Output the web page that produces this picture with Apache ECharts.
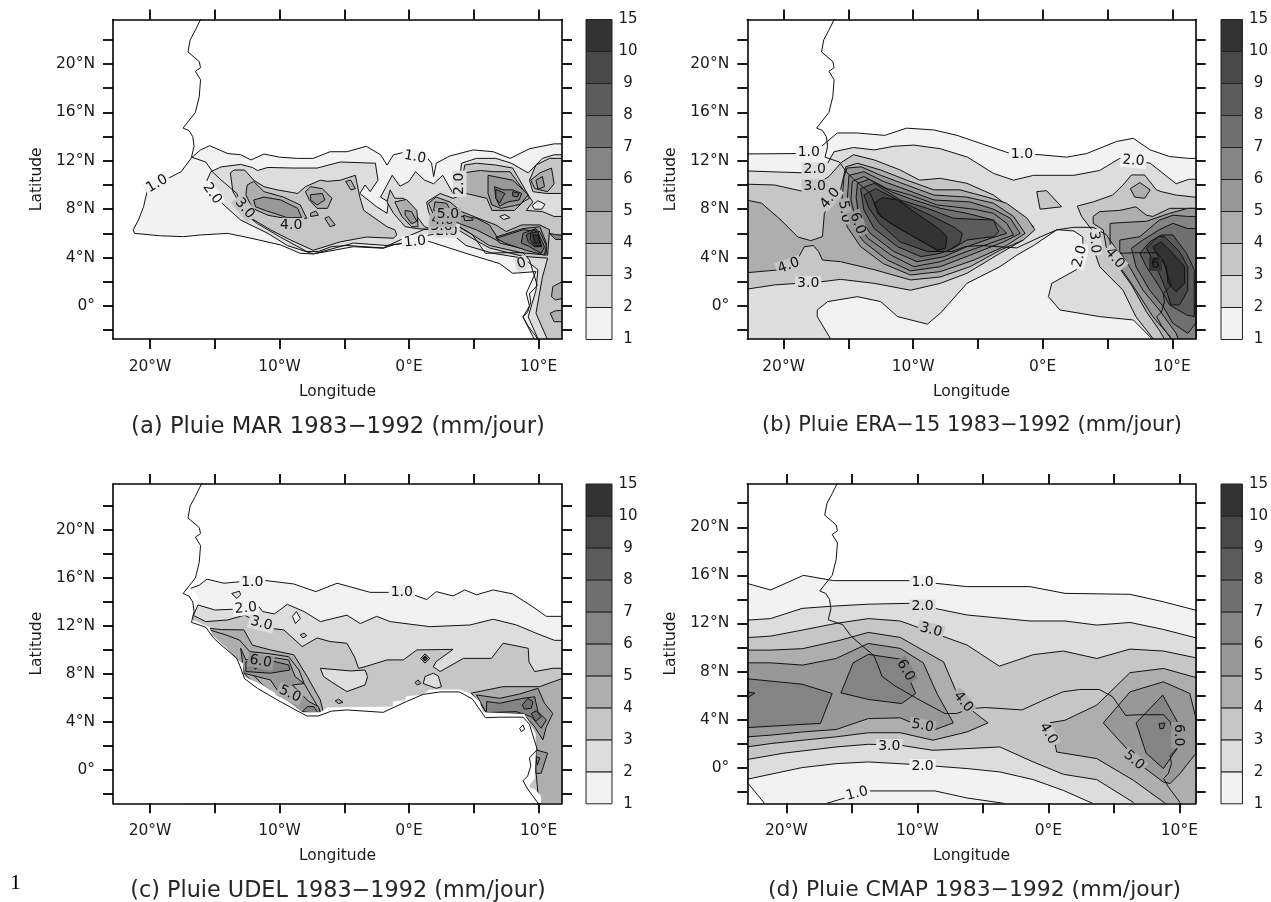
<!DOCTYPE html>
<html><head><meta charset="utf-8">
<style>html,body{margin:0;padding:0;background:#fff}#c{width:1271px;height:902px}</style>
<script src="https://cdn.jsdelivr.net/npm/echarts@6/dist/echarts.min.js"></script>
</head><body><div id="c"></div>
<script>
const lonTicks=[-20,-15,-10,-5,0,5,10];
const lonLabels=[-20,-10,0,10];
const latTicks=[-2,0,2,4,6,8,10,12,14,16,18,20,22];
const latLabels=[0,4,8,12,16,20];
const colorbarLabels=['1','2','3','4','5','6','7','8','9','10','15'];
const titles=['(a) Pluie MAR 1983\u22121992 (mm/jour)','(b) Pluie ERA\u221215 1983\u22121992 (mm/jour)','(c) Pluie UDEL 1983\u22121992 (mm/jour)','(d) Pluie CMAP 1983\u22121992 (mm/jour)'];
const coast=[[-16,23.9],[-16.5,22.8],[-16.9,22],[-17.07,21],[-16.2,20.2],[-16.1,19.7],[-16.5,19.4],[-16.1,18.7],[-16.2,17.3],[-16.5,16],[-17.45,14.7],[-17,14.5],[-16.7,14],[-16.6,13.2],[-16.8,12.3],[-15.7,11.9],[-15.1,11],[-14.6,10.5],[-13.3,9.3],[-13,8.5],[-12.7,7.6],[-11.7,6.8],[-9.95,5.7],[-7.9,4.5],[-7,4.5],[-6,4.9],[-4.8,5],[-2,4.8],[-0.2,5.7],[1.1,6.3],[2.4,6.5],[3.9,6.5],[4.9,5.9],[5.9,4.35],[7,4.4],[8.8,4.4],[9.3,3.8],[9.9,1.7],[9.3,1],[9.4,.33],[9.16,-.5],[8.8,-.9],[9.16,-1.6],[10.05,-2.9]];

// [level, outline in lon/lat]; level -1 = ocean mask
const marContours=[
[1,[[-21.3,6.3],[-20.9,7.1],[-20.5,8.2],[-20.2,9.6],[-18.6,10.55],[-17.6,11.1],[-16.8,12.25],[-16.1,12.9],[-15.4,13.25],[-14,12.6],[-13,12.5],[-12.2,12.07],[-11.2,12.56],[-10,12.3],[-8.6,12.2],[-7.4,12.2],[-6.1,12.75],[-4.8,12.75],[-3.3,13.2],[-2.2,12.5],[-1.7,11.65],[-1.2,12.5],[-.2,12.75],[1.2,12.5],[1.74,11.8],[1.9,10.7],[2.1,11.8],[3.15,12.4],[4.95,12.9],[6.5,12.75],[7.8,12.2],[9.3,13],[11.2,13.4],[12.5,13.4],[12.5,-3.3],[9.9,-3.3],[9.56,-2.53],[8.8,-.9],[9.3,0],[9.05,1.05],[9.8,2.84],[8,2.7],[7,3.5],[4.4,4.35],[1.2,5.45],[-1.2,5.05],[-2,4.77],[-4.3,4.9],[-7.4,4.3],[-8.4,4.35],[-9.9,5.04],[-12.2,5.6],[-14,6],[-16.1,5.87],[-17.4,5.73],[-19.2,5.8],[-21.2,6]]],
[2,[[-15.3,11.1],[-14.5,11.5],[-13,11.7],[-12.1,11.45],[-11.7,11.2],[-10.9,11.45],[-8.9,11.4],[-7.1,11.4],[-5.3,11.9],[-2.6,11.8],[-2.4,10.4],[-3,9.45],[-3.4,10],[-3.8,9.3],[-2.5,8.2],[-1.7,7.66],[-1.6,8.6],[-2.2,9],[-1.3,10.8],[-.7,9.9],[0,10.3],[.5,11.1],[1.2,10.4],[1.9,10.1],[2.6,10.8],[3.4,9.3],[3.8,9.2],[4.05,11.8],[5.2,12.2],[6.7,12.2],[7.9,11.8],[9.2,11],[10.3,12.2],[11.2,12.5],[12.5,12.5],[12.5,-3.3],[10.2,-3.3],[9.2,-.9],[9.8,1.3],[9.95,3],[8.8,3.95],[6.5,4.35],[4.4,5],[3.15,6.1],[1.6,5.87],[.6,5.6],[-.4,5.2],[-1.7,5],[-4.3,5.2],[-7.4,4.3],[-9.4,5],[-10.9,6],[-13,7.1],[-14.3,8.35],[-14.9,9],[-15.6,10.4]]],
[3,[[-13.8,11],[-13.5,11.24],[-12.7,11.24],[-12,10.4],[-11.2,9.86],[-10.2,9.6],[-8.6,9.3],[-8,9.86],[-6.85,10.4],[-6.3,10.3],[-5.3,10.4],[-4.15,10.8],[-3.8,9],[-3.5,7.9],[-1.7,6.55],[-1.1,6.3],[-.95,5.87],[-1.2,5.6],[-3.3,5.7],[-5.3,5.3],[-7.4,4.6],[-9.15,5.45],[-10.7,6.3],[-12.2,7.25],[-13,8.35],[-13.6,9.45]]],
[3,[[-1.46,9.6],[-1.1,8.9],[-.4,8.9],[.6,7.4],[1.2,6.55],[1.9,6.3],[.6,6.4],[-.3,6.55],[-1.2,7.66],[-1.7,8.6]]],
[3,[[1.36,8.6],[2.4,9.3],[3.4,8.9],[3.9,9.1],[4.3,11.65],[5.2,11.8],[6.7,11.65],[8,11.4],[9.3,9],[9.56,8.6],[9.05,7.9],[10.3,7.8],[11.2,7.4],[12.5,7.4],[12.5,-3.3],[10.9,-3.3],[9.8,-.6],[10.3,2.4],[10.7,3.95],[8.8,4.1],[6.2,4.8],[4.7,5.7],[3.4,6.55],[1.9,6.8],[1.5,7.8]]],
[3,[[9.3,10.4],[9.8,11.65],[10.85,12.2],[12.5,12.2],[12.5,9.3],[10.6,9.3],[9.56,9.45]]],
[1,[[9.5,8.3],[9.95,8.7],[10.5,8.4],[10.25,8],[9.7,8]]],
[2,[[7,7.4],[7.4,7.55],[7.8,7.3],[7.3,7.15]]],
[4,[[-12.5,10],[-12,10.3],[-11.2,9.45],[-9.7,9],[-8.4,8.35],[-7.9,7.25],[-9.15,7.16],[-10.9,7.5],[-12.1,8.07],[-12.6,9.2]]],
[4,[[-8,9.45],[-7.6,9.86],[-6.7,9.7],[-5.95,8.9],[-6.3,8.07],[-7.1,8.07],[-7.7,8.76]]],
[4,[[-4.9,10.3],[-4.5,10.4],[-4.15,9.7],[-4.5,9.6]]],
[4,[[-7.6,7.66],[-7.2,7.85],[-7,7.5],[-7.6,7.4]]],
[4,[[-6.5,7.25],[-6.2,7.4],[-5.7,6.7],[-6.1,6.55]]],
[4,[[-1.1,8.6],[-.2,8.8],[.6,7.9],[.7,6.55],[.2,6.55],[-.56,7.4]]],
[4,[[1.5,8.5],[2.1,9],[3.15,8.6],[4.05,7.8],[5.7,7.1],[6.7,6.7],[7.5,6.15],[8.7,6.7],[10.1,6.7],[10.85,6.3],[10.7,4.2],[8.7,4.4],[6.2,5],[3.9,6.55],[2.9,7.1],[1.9,7.5]]],
[4,[[4.2,11],[5.5,11.2],[6.5,11.1],[7.8,11.1],[9.3,8.9],[8.8,8.6],[8.15,7.9],[6.4,7.9],[6,8.9],[4.4,9.3],[4.2,10.1]]],
[4,[[10.1,11],[11,11.4],[11.2,10.1],[10.7,9.45],[9.7,9.7],[9.4,10.4]]],
[4,[[11.1,1.6],[11,.77],[11.3,.5],[12.5,.77],[12.5,2.4]]],
[4,[[10.9,-.6],[11.2,-1.3],[12.5,-1.3],[12.5,-.3],[11.3,-.4]]],
[5,[[6.1,10.8],[8,10.4],[9.2,9.2],[8.6,8.4],[7.1,8.07],[6.4,8.35],[6.1,9.3]]],
[5,[[2,8.6],[2.9,8.5],[3.4,7.5],[5.2,7.25],[6.2,6.7],[6.7,5.87],[7,5.3],[5.2,6.3],[3.9,6.8],[2.8,7.5],[1.9,7.9]]],
[5,[[6.7,5.7],[8.8,6.4],[10.1,6.55],[10.6,5.2],[10.6,4.35],[9.3,4.6],[7,5.2]]],
[5,[[-12,8.76],[-11.2,9],[-9.9,8.76],[-8.6,8.07],[-8.3,7.3],[-9.4,7.3],[-11.1,7.9],[-11.85,8.2]]],
[5,[[-7.6,9.2],[-6.7,9.3],[-6.5,8.76],[-7.1,8.35],[-7.6,8.76]]],
[5,[[-.3,7.9],[.2,7.8],[.6,7],[.2,6.8],[-.3,7.5]]],
[5,[[4.2,7.5],[4.8,7.3],[4.95,7.1],[4.3,7.05]]],
[5,[[9.8,10.4],[10.3,10.7],[10.46,9.86],[9.95,9.64]]],
[6,[[6.6,9.86],[7.25,9.6],[8,9.6],[8.7,9.3],[8.5,8.76],[7.6,8.6],[7,8.26],[6.7,8.9]]],
[7,[[6.7,9.64],[7.4,9.3],[7,8.5],[6.7,8.9]]],
[7,[[8,9.45],[8.5,9.3],[8.35,9],[8,9.1]]],
[6,[[6.75,5.6],[8.8,6.3],[10.1,6.15],[10.6,5],[10.46,4.2],[9.05,4.6],[7.4,5.2]]],
[7,[[8.8,6],[9.8,6.4],[10.46,4.9],[10.2,4.35],[9.3,4.9],[8.67,5.2]]],
[8,[[9.05,5.87],[9.7,6.3],[10.27,4.9],[9.7,4.9],[9.2,5.3]]],
[9,[[9.4,6],[9.95,6.15],[10.2,5],[9.7,5],[9.35,5.5]]],
[10,[[9.56,5.87],[9.95,5.87],[10.1,5.2],[9.7,5.2]]],
[6,[[10.85,6],[11.3,5.9],[12.5,5.8],[12.5,5.5],[11.3,5.5]]]
];
const marLabels=[[-19.46,10.1,'1.0',30,1],[-15.2,9.3,'2.0',-55,1],[-12.7,8.07,'3.0',-50,3],[-9.1,6.7,'4.0',0,3],[.46,12.3,'1.0',-10,1],[3.9,10.1,'2.0',90,2],[.46,5.3,'1.0',5,1],[2.9,6.2,'2.0',0,2],[2.5,6.6,'3.0',0,3],[2.6,7.1,'4.0',0,4],[3,7.55,'5.0',0,4],[8.7,3.5,'0',20,2]];

const eraContours=[
[1,[[-24,12.56],[-18.9,12.6],[-17.4,12.9],[-15.85,14.3],[-14.3,14.3],[-12.2,14.1],[-10.5,14.7],[-8.4,14.55],[-6.6,14.1],[-2.5,12.6],[-.2,12.5],[1.85,12.3],[3.4,12.6],[5.7,13.6],[7,13.86],[8.3,12.9],[9.8,12.35],[11.26,12.2],[12.5,12.2],[12.5,-3.5],[-24,-3.5]]],
[2,[[-24,11.2],[-18.3,11],[-16.6,11.8],[-16.1,12.75],[-14.6,13.1],[-13,12.9],[-11.5,13.2],[-9.95,13.3],[-7.9,13],[-5.8,12.3],[-3.8,10.96],[-2.25,10.4],[-.7,10.8],[2.4,10.8],[4.4,11.2],[5.95,12.2],[8.3,11.8],[10.3,10.1],[11.26,10.47],[12.5,10.47],[12.5,-3.5],[-24,-3.5]]],
[1,[[-16.4,-3.9],[-16.4,-2.67],[-17.4,-.88],[-17.4,-.33],[-16.6,.36],[-14.3,.77],[-12.5,.36],[-11.2,-.88],[-8.9,-1.5],[-7.9,-.6],[-5.85,1.87],[-3.3,3.25],[-2,4.2],[-.7,5],[1.1,6.3],[2.4,6.2],[3.1,5.7],[3.1,4.1],[2.6,3],[.7,1.87],[.44,.77],[1.33,-.33],[4.4,-.88],[7,-1.16],[8.4,-2.67],[8.4,-3.9]]],
[3,[[-24,10.1],[-20.7,10],[-18.4,9.45],[-16.5,10.7],[-15.5,11.9],[-14.6,12.5],[-13,12.07],[-11,11.24],[-9.5,10.4],[-7.9,10.55],[-5.85,10.14],[-3.8,9.17],[-2.25,7.93],[-.7,6.55],[-1.5,5.45],[-3.3,4.35],[-5.85,2.7],[-7.9,1.87],[-10.2,1.3],[-13,1.87],[-15.6,2.2],[-17.1,2],[-20.7,1.74],[-24,1.2]]],
[3,[[-.46,9.45],[.3,9.53],[1.46,8.2],[-.2,8]]],
[3,[[2.67,8.26],[3.9,8.6],[5.4,9.17],[6.2,10],[6.85,10.83],[7.87,10.83],[8.77,9.6],[9.15,9.45],[10.3,9.17],[11.7,9],[12.5,9],[12.5,-3.5],[8.5,-3.5],[8.5,-2.67],[7.2,-.9],[6.2,1.3],[4.4,3.25],[4,4.5],[4,6],[3,7.4]]],
[4,[[6.77,9.7],[7.5,10.2],[8.3,9.6],[7.87,8.9],[7.1,9]]],
[4,[[-24,9],[-21.7,8.5],[-20.2,7.1],[-18.9,5.7],[-17.9,5.4],[-17,5.73],[-16.85,7.66],[-15.6,9.6],[-15.2,11.5],[-14.3,11.8],[-12.5,11.24],[-10.5,10.4],[-8.4,9.6],[-6.4,9.6],[-4.3,9],[-2.8,8.5],[-1.2,7.25],[-.6,6.3],[-1.5,5.45],[-3.3,4.6],[-5.6,3.25],[-7.9,2.4],[-10.2,2.15],[-13,3],[-15.6,3.66],[-17,3.8],[-17.3,4.5],[-17.7,5],[-18.4,4.9],[-18.9,3.9],[-20.2,3],[-24,2.64]]],
[4,[[3.9,7.4],[4.4,7.8],[5.95,7.9],[7.2,8.2],[8,7.5],[8.5,7.4],[9.8,8.07],[11.7,8.07],[12.5,8.07],[12.5,-3.5],[9.8,-3.5],[9,-2],[8,-.47],[6.85,1.74],[5.56,3.66],[4.9,4.9],[4.67,6.28],[3.9,6.83]]],
[5,[[-15.1,11.4],[-14,11.5],[-12.5,10.8],[-10.5,10],[-8.4,9.17],[-5.85,9],[-3.8,8.5],[-2.25,7.4],[-1.36,6],[-2.8,5],[-5.3,3.8],[-7.9,2.84],[-10.2,2.56],[-12.3,3.5],[-14.05,4.9],[-15.1,6.55],[-15.5,8.76],[-15.33,10.7]]],
[5,[[5.2,6.83],[6.2,6.9],[8,7],[9.8,7.66],[11.2,8.07],[12.5,8.07],[12.5,-3.5],[10.2,-3.5],[9.8,-2.5],[8.5,-.88],[7.2,1.3],[5.95,3.25],[5.2,5.18]]],
[6,[[-14.95,10.8],[-13.8,11.1],[-12.3,10.3],[-10.5,9.6],[-8.4,8.76],[-5.6,8.6],[-3.8,8],[-2.5,7.25],[-1.74,6],[-3,5.3],[-5.6,4.2],[-7.9,3.25],[-10.2,2.9],[-12,3.8],[-13.8,5.3],[-14.7,6.55],[-15.1,8.5]]],
[6,[[5.95,5.45],[7.5,5.73],[9,7.1],[10.05,7.5],[11.2,7.4],[12.5,7.4],[12.5,-3.5],[10.7,-3.5],[10.3,-2.26],[9,-.33],[7.74,1.3],[6.7,3.25],[5.95,4.5]]],
[6,[[-14.7,10.3],[-13.8,10.7],[-12,9.7],[-10.2,9.17],[-8.15,8.35],[-5.3,8],[-3.8,7.66],[-2.77,6.83],[-2.25,5.87],[-3.5,5.4],[-5.85,4.5],[-7.9,3.66],[-9.95,3.25],[-11.7,4.2],[-13.5,5.6],[-14.4,7],[-14.8,8.76]]],
[7,[[-14.3,10.14],[-13.4,10.47],[-11.7,9.45],[-9.95,8.76],[-7.9,8.07],[-5.85,7.66],[-3.8,7.1],[-2.77,6],[-4,5.6],[-5.85,4.9],[-7.6,4.08],[-9.7,3.66],[-11.5,4.5],[-13.3,6],[-14.2,7.4],[-14.4,9]]],
[7,[[6.85,4.77],[7.74,5.45],[9,6.3],[10.05,6.83],[11.2,6.4],[12.5,6.4],[12.5,-.5],[11.2,-2.26],[10.05,-1.43],[9.3,-.05],[8.26,1.3],[7.2,3.25]]],
[8,[[-14.05,9.7],[-13,10.14],[-11,8.76],[-8.9,8.07],[-6.9,7.25],[-3.8,7.1],[-3.4,6.14],[-3.8,5.73],[-5.85,5.45],[-6.9,4.77],[-7.9,4.35],[-9.4,4.08],[-11.2,4.9],[-13,6.4],[-13.8,7.93]]],
[8,[[7.5,4.35],[8.26,5.3],[9.15,5.87],[10.05,5.87],[11.1,4.35],[11.7,3],[11.7,-.88],[11.1,-.74],[9.8,.08],[9,1.6],[8,3.25]]],
[9,[[-13.8,9.17],[-12.9,9.7],[-10.7,8.5],[-8.67,7.5],[-6.9,6.55],[-6.2,6],[-6.4,5.2],[-7.4,4.5],[-8.9,4.5],[-11,5.3],[-12.6,6.83],[-13.4,8.07]]],
[9,[[8,4.77],[8.9,5.73],[9.4,5.73],[10.56,4.5],[11.2,3.25],[11.2,1.3],[10.56,.08],[9.9,.08],[9.54,1.3],[8.77,3.25]]],
[10,[[-13,8.5],[-12.4,8.95],[-11.2,8.76],[-9.4,7.4],[-7.9,6.3],[-7.4,5.73],[-7.5,4.77],[-8.15,4.6],[-9.95,5.73],[-11.7,6.83],[-12.5,7.4]]],
[10,[[8.5,4.9],[9.15,5.3],[10.05,4.35],[10.95,3.25],[10.95,1.87],[10.3,1.18],[9.67,1.87],[9.54,3.25],[8.77,4.35]]]
];
const eraLabels=[[-18.05,12.7,'1.0',0,1],[-17.6,11.3,'2.0',0,2],[-17.6,9.9,'3.0',0,3],[-16.4,8.9,'4.0',50,3],[-15.3,7.8,'5.0',-80,4],[-14.3,6.83,'6.0',-70,5],[-19.6,3.33,'4.0',20,3],[-18.1,1.87,'3.0',0,2],[-1.6,12.5,'1.0',0,1],[7,12,'2.0',-5,1],[2.87,4.1,'2.0',75,1],[4,5.26,'3.0',-85,2],[5.56,3.94,'4.0',-50,3],[8.7,3.47,'6',0,10]];

const udelContours=[
[1,[[-16.85,15.14],[-16.2,15.4],[-15.6,15.9],[-14.3,15.56],[-12.9,15.7],[-11.2,15.8],[-8.9,15.5],[-7.2,14.86],[-5.55,15.56],[-3,14.8],[-1.46,14.8],[.08,14.7],[1.36,14.2],[2.1,14.86],[3.4,14.5],[4.3,15],[5.2,14.6],[6.5,15],[8,14.67],[9.55,13.6],[10.6,12.8],[11.36,12.8],[12.5,12.8],[12.5,-3.5],[-17,-3.5]]],
[2,[[-13.7,14.7],[-13.1,14.9],[-13,14.6],[-13.3,14.3]]],
[2,[[-16.3,13.75],[-15,13.33],[-13.4,13.4],[-11.7,13.75],[-11.3,13.2],[-10.4,13],[-9.4,13.8],[-8.1,13.2],[-6.85,12.36],[-5.8,12.64],[-4.8,12.9],[-3.77,12.2],[-2.5,12.8],[-1.46,12.36],[1.6,11.94],[4.7,12.08],[6.5,12.56],[8.3,12.08],[9.8,11.4],[11.24,10.8],[12.5,10.8],[12.5,-3.5],[-17,-3.5],[-17,12]]],
[1,[[-9,12.8],[-8.7,13.2],[-8.4,12.64],[-8.77,12.2]]],
[3,[[-16.7,12.9],[-15.7,12.36],[-14,12.5],[-12.7,12.9],[-10.7,11.8],[-9.67,11.67],[-8.25,10.28],[-7.1,11],[-6.1,10.7],[-4.8,10.56],[-4.2,9.4],[-3.9,8.47],[-3.4,8.6],[-1.7,9.17],[-.44,9.17],[.6,10],[3.4,10.05],[2.1,9.03],[1.87,8.6],[2.4,8.2],[4.2,9.3],[4.7,9.3],[6.36,9.3],[7.26,10.56],[9.2,10.14],[9.26,9],[9.7,8.2],[11.1,8.47],[12.5,8.47],[12.5,-3.5],[-17,-3.5]]],
[3,[[-8.4,11.25],[-8.1,11.4],[-7.9,11.2],[-8.2,11]]],
[2,[[-6.85,8.47],[-4.5,8.25],[-3.4,8.33],[-3.2,7.78],[-3.4,7.08],[-4.8,6.53],[-5.8,7.2],[-6.6,7.78]]],
[2,[[1.23,7.78],[1.87,8.06],[2.26,7.83],[2.5,6.94],[2.1,6.8],[1.1,7.2]]],
[4,[[-15.4,11.8],[-14.5,11.7],[-12.75,11.67],[-12.1,10.4],[-10.7,10],[-8.9,9.6],[-7.87,7.8],[-6.85,5.83],[-6.6,4.7],[-9.7,4.7],[-15.6,11.2]]],
[4,[[-15.4,11.67],[-14.15,11.25],[-13.1,10.83],[-12.3,9.86],[-10.9,9.7],[-9.3,9.44],[-8.5,8.33],[-8.1,7.2],[-6.85,4.9],[-8.25,4.6],[-11.3,7.08],[-12.85,8.9],[-14.1,9.9],[-15.2,11]]],
[5,[[-13,10.14],[-12.6,9.17],[-10.9,9.44],[-9.3,9.17],[-8.8,7.78],[-8.1,7.2],[-9,7.08],[-7.74,5.7],[-7,5.28],[-6.85,4.7],[-8.25,4.7],[-9.67,5.83],[-10.7,7.5],[-12.75,8.06]]],
[6,[[-12.6,9],[-10.9,9.17],[-9.3,8.75],[-9.2,8.33],[-10.7,8.06],[-12.6,8.2]]],
[7,[[-12,8.9],[-11.7,8.9],[-11.6,8.6],[-11.9,8.4]]],
[6,[[-8.25,4.86],[-7.87,5.28],[-7.36,5.28],[-7,4.7]]],
[4,[[4.8,6.4],[7.26,6.94],[10.08,6.94],[11.87,7.64],[12.5,7.64],[12.5,-3.5],[10.08,-3.5],[9.56,2.78],[8.28,4.78],[5.97,4.78],[5.46,5.56]]],
[5,[[5.2,6.25],[7,5.97],[8.54,6.33],[9.95,6.8],[10.46,5.56],[11.1,4.7],[10.6,3.6],[10.33,2.5],[9.7,3.6],[8.8,4.7],[5.97,4.78]]],
[6,[[6,5.7],[7,5.56],[8.8,5.97],[9.7,6.1],[9.95,4.86],[10.6,4.17],[10.2,3.47],[9.44,4.44],[8.28,4.86],[5.97,4.78]]],
[7,[[8.74,5.4],[9.18,5.97],[9.56,5.7],[9.44,5.14],[8.92,5.06]]],
[7,[[9.44,4.7],[9.82,4.94],[10.2,4.44],[9.77,4.03]]],
[5,[[9.8,1.67],[10.7,1.4],[10.2,-.28],[9.8,-.28]]],
[6,[[9.8,1.1],[10.1,1],[9.9,.4]]],
[4,[[.9,9.3],[1.23,9.67],[1.6,9.3],[1.23,8.9]]],
[6,[[1.05,9.3],[1.23,9.5],[1.42,9.3],[1.23,9.08]]],
[8,[[1.12,9.3],[1.23,9.4],[1.34,9.3],[1.23,9.18]]],
[4,[[.46,7.28],[.7,7.5],[.9,7.2],[.64,7.08]]],
[4,[[-5.7,5.75],[-5.44,5.9],[-5.1,5.64],[-5.44,5.53]]],
[-1,[[10.2,-3.5],[10.2,-2.8],[10.2,-2.2],[9.77,-1.67],[9.25,-1.39],[9.7,-.7],[9.8,1.67],[9.77,3.05],[8.9,4.67],[5.7,4.8],[5.46,5.7],[4.7,6.4],[3.9,6.7],[1.6,6.7],[.97,6.25],[-.18,6.17],[-.3,5.83],[-1.25,5.7],[-1.25,5.28],[-6.3,5.2],[-6.85,4.8],[-8.25,4.8],[-9.15,5.56],[-11.3,7.08],[-12.8,7.8],[-12.8,8.9],[-13.5,9.44],[-14.15,10.2],[-15.2,11.25],[-15.4,11.9],[-16.7,12.5],[-16.7,13.33],[-16.2,14.3],[-16.85,15.14],[-24,15.14],[-24,-3.5]]],
[0,[[8.54,3.47],[8.8,3.75],[8.92,3.39],[8.67,3.19]]]
];
const udelLabels=[[-12.1,15.64,'1.0',0,1],[-.56,14.78,'1.0',0,1],[-12.6,13.47,'2.0',5,1],[-11.4,12.2,'3.0',-15,2],[-11.46,9.03,'6.0',-10,5],[-9.2,6.33,'5.0',-25,4]];

const cmapContours=[
[1,[[-24,15.4],[-23,15.33],[-21.2,14.78],[-18.7,16],[-16.4,15.56],[-10.56,15.56],[-6.2,15.06],[-1.4,15.06],[1.27,14.5],[6.23,14.42],[8.78,13.8],[11.25,13.1],[12.5,13.1],[12.5,-3.6],[-21.2,-3.6],[-23,-1.2],[-24,-.3]]],
[1,[[-17,-3],[-13.74,-1.94],[-8.65,-1.94],[-6.2,-2.53],[-3.2,-3],[-3.2,-3.6],[-17,-3.6]]],
[2,[[-24,12.2],[-21.2,12.4],[-18.8,13.25],[-16.4,13.44],[-13.74,13.6],[-10.56,13.67],[-6.2,12.7],[-1.4,12.2],[1.27,12.2],[3.7,11.86],[6.23,12.08],[8.78,11.5],[11.25,10.8],[12.5,10.8],[12.5,-3.6],[3.43,-3.6],[3.43,-3],[1.15,-1.9],[-1.15,-1],[-3.7,-.36],[-6.2,-.08],[-10.56,.28],[-13.74,.47],[-16.2,.33],[-18.8,0],[-23,-.97],[-24,-.97]]],
[3,[[-24,10.75],[-21.2,10.94],[-18.8,11.44],[-16.2,12],[-13.74,12.4],[-11.3,12.2],[-6.2,10.2],[-3.74,8.44],[-1.15,9.4],[1.15,9.7],[3.7,9.08],[6.23,9.86],[8.78,9.7],[11.25,9.14],[12.5,9.14],[12.5,-3.6],[6.9,-3.6],[6.5,-2.9],[3.7,-1],[1.15,-.56],[-1.15,.47],[-3.7,1.72],[-8.8,1.44],[-11.3,1.86],[-13.74,1.94],[-16.2,1.72],[-20.2,1.2],[-23,.67],[-24,.67]]],
[4,[[-24,9.78],[-21.2,9.78],[-18.75,9.9],[-15.9,10.6],[-13.74,11.25],[-11.3,10.83],[-8,8.8],[-7.1,6.5],[-5.7,4.64],[-4.6,3.72],[-6.2,2.97],[-8.8,2.28],[-11.3,2.9],[-13.74,2.9],[-16.2,2.56],[-18.75,2.28],[-21.2,2],[-23,1.72],[-24,1.72]]],
[4,[[-.25,3.67],[1.27,3.94],[3.7,5.2],[6.23,7.9],[8.78,8.25],[11.25,7.5],[12.5,7.5],[12.5,-3.6],[9.8,-3.6],[8.78,-2.86],[6.5,-1.06],[3.7,.75],[.64,1.3],[.5,2]]],
[5,[[-24,8.72],[-21.2,8.72],[-18.75,8.53],[-16.2,9.08],[-13.74,10.33],[-11.3,9.92],[-9.55,8.72],[-8.5,6.17],[-7.25,3.72],[-8.8,3.1],[-10.3,3.67],[-11.3,4.14],[-13.74,4.08],[-16.2,3.17],[-18.75,2.97],[-21.2,2.7],[-23,2.56],[-24,2.56]]],
[5,[[4.2,3.72],[6.23,6.3],[8.78,7.14],[10.8,6.17],[11.25,4.2],[11.25,1.17],[10.05,-.5],[9.3,-1.33],[8.78,-1.2],[7.25,.05]]],
[6,[[-24,7.5],[-18.8,6.94],[-16.5,6.17],[-17.4,3.67],[-18.75,3.6],[-21.2,3.44],[-23,3.33],[-24,3.33]]],
[7,[[-24,6.3],[-23,6.3],[-22.4,6.2],[-23,5.8],[-24,5.8]]],
[6,[[-14.9,8.72],[-13.74,9.42],[-11.3,9.03],[-10.13,6.17],[-11.2,5.33],[-13.74,5.67],[-15.83,6.22]]],
[6,[[6.7,3.72],[8.73,6.03],[9.92,3.67],[9.92,1.72],[8.78,-.08],[7.46,1.22]]],
[7,[[8.45,3.67],[8.9,3.72],[8.78,3.25],[8.52,3.25]]]
];
const cmapLabels=[[-9.6,15.42,'1.0',0,1],[-9.6,13.4,'2.0',0,2],[-8.96,11.44,'3.0',-15,3],[-10.9,8.1,'6.0',-60,6],[-6.5,5.47,'4.0',-50,4],[-9.6,3.47,'5.0',-10,4],[-12.14,1.8,'3.0',0,2],[-9.6,.14,'2.0',0,1],[-14.6,-2.17,'1.0',15,1],[0,2.83,'4.0',-60,3],[6.54,.6,'5.0',-40,4],[9.92,2.7,'6.0',-90,5]];

const levelColors={1:'#f2f2f2',2:'#dddddd',3:'#c6c6c6',4:'#aeaeae',5:'#989898',6:'#848484',7:'#707070',8:'#5c5c5c',9:'#484848',10:'#333333',0:'#ffffff','-1':'#ffffff'};
const FONT='"DejaVu Sans"';
const panels=[
 {c:marContours,l:marLabels,left:113,top:19.5,w:449,h:319.5,lon:[-22.86,11.81],lat:[-2.73,23.68],cbLeft:586,t:[338,416,22.7]},
 {c:eraContours,l:eraLabels,left:747.3,top:19.5,w:448.4,h:319.5,lon:[-22.8,11.81],lat:[-2.73,23.68],cbLeft:1221,t:[972,415,20.9]},
 {c:udelContours,l:udelLabels,left:113,top:484,w:449,h:319.3,lon:[-22.86,11.81],lat:[-2.78,23.83],cbLeft:586,t:[338,880,22.3]},
 {c:cmapContours,l:cmapLabels,left:747.3,top:484,w:448.4,h:319.3,lon:[-22.98,11.25],lat:[-2.97,23.6],cbLeft:1221,t:[974.5,879,21.9]}
];
const option={animation:false,backgroundColor:'#fff',grid:[],xAxis:[],yAxis:[],series:[],title:[],graphic:[{type:'text',x:10,y:872,style:{text:'1',font:'22px "Liberation Serif"',fill:'#000'}}]};
const line={show:true,onZero:false,lineStyle:{color:'#000',width:1.6}};
const tick={show:true,length:10,inside:false,lineStyle:{color:'#000',width:1.8}};
const lab={color:'#1a1a1a',fontFamily:FONT,fontSize:15.5};
panels.forEach((p,i)=>{
 const gi=option.grid.length;
 option.grid.push({left:p.left,top:p.top,width:p.w,height:p.h});
 const xi=option.xAxis.length, yi=option.yAxis.length;
 const lonFmt=v=>v<0?(-v)+'\u00b0W':v+'\u00b0E';
 const latFmt=v=>v===0?'0\u00b0':v+'\u00b0N';
 option.xAxis.push({type:'value',gridIndex:gi,z:10,position:'bottom',min:p.lon[0],max:p.lon[1],splitLine:{show:false},axisLine:line,
   axisTick:{...tick,customValues:lonTicks},axisLabel:{...lab,margin:20,customValues:lonLabels,formatter:lonFmt},
   name:'Longitude',nameLocation:'middle',nameGap:45,nameTextStyle:lab});
 option.xAxis.push({type:'value',gridIndex:gi,z:10,position:'top',min:p.lon[0],max:p.lon[1],splitLine:{show:false},axisLine:line,
   axisTick:{...tick,customValues:lonTicks},axisLabel:{show:false}});
 option.yAxis.push({type:'value',gridIndex:gi,z:10,position:'left',min:p.lat[0],max:p.lat[1],splitLine:{show:false},axisLine:line,
   axisTick:{...tick,customValues:latTicks},axisLabel:{...lab,margin:18,padding:[4,0,0,0],customValues:latLabels,formatter:latFmt},
   name:'Latitude',nameLocation:'middle',nameGap:68,nameRotate:90,nameTextStyle:lab});
 option.yAxis.push({type:'value',gridIndex:gi,z:10,position:'right',min:p.lat[0],max:p.lat[1],splitLine:{show:false},axisLine:line,
   axisTick:{...tick,customValues:latTicks},axisLabel:{show:false}});
 // filled contours
 option.series.push({type:'custom',xAxisIndex:xi,yAxisIndex:yi,clip:true,silent:true,data:p.c.map((_,k)=>[k]),encode:{x:[],y:[]},
  renderItem:(params,api)=>{const e=p.c[params.dataIndex];const mask=e[0]===-1;
   return {type:'polygon',shape:{points:e[1].map(q=>api.coord(q))},style:{fill:levelColors[e[0]],stroke:mask?null:'#111',lineWidth:mask?0:1,lineJoin:'round'}};}});
 // coastline
 option.series.push({type:'line',xAxisIndex:xi,yAxisIndex:yi,data:coast,showSymbol:false,symbol:'none',clip:true,silent:true,z:3,lineStyle:{color:'#111',width:1}});
 // contour labels
 option.series.push({type:'custom',xAxisIndex:xi,yAxisIndex:yi,clip:true,silent:true,z:4,data:p.l.map((_,k)=>[k]),encode:{x:[],y:[]},
  renderItem:(params,api)=>{const e=p.l[params.dataIndex];const q=api.coord([e[0],e[1]]);
   return {type:'text',x:q[0],y:q[1],rotation:e[3]*Math.PI/180,style:{text:e[2],fill:'#111',font:'14px "DejaVu Sans"',align:'center',verticalAlign:'middle',backgroundColor:levelColors[e[4]],padding:[0,2]}};}});
 // colour bar
 const gb=option.grid.length;
 option.grid.push({left:p.cbLeft,top:p.top,width:26,height:p.h+0.5});
 const xb=option.xAxis.length,yb=option.yAxis.length;
 option.xAxis.push({type:'value',gridIndex:gb,min:0,max:1,show:false});
 option.yAxis.push({type:'value',gridIndex:gb,position:'right',min:0,max:10,interval:1,splitLine:{show:false},
   axisLine:{show:false},axisTick:{show:false},axisLabel:{...lab,fontSize:15,margin:16,align:'center',padding:[2,0,0,0],formatter:v=>colorbarLabels[v]}});
 const cells=colorbarLabels.slice(0,10).map((_,k)=>[k]);
 option.series.push({type:'custom',xAxisIndex:xb,yAxisIndex:yb,silent:true,data:cells,encode:{x:[],y:0},
  renderItem:(params,api)=>{const k=params.dataIndex;const a=api.coord([0,k]),b=api.coord([1,k+1]);
   return {type:'rect',shape:{x:a[0],y:b[1],width:b[0]-a[0],height:a[1]-b[1]},style:{fill:levelColors[k+1],stroke:'#222',lineWidth:1}};}});
 option.title.push({text:titles[i],left:p.t[0],top:p.t[1],textAlign:'center',padding:0,textStyle:{fontFamily:FONT,fontSize:p.t[2],fontWeight:'normal',color:'#262626'}});
});
echarts.init(document.getElementById('c'),null,{renderer:'canvas'}).setOption(option);
</script></body></html>
